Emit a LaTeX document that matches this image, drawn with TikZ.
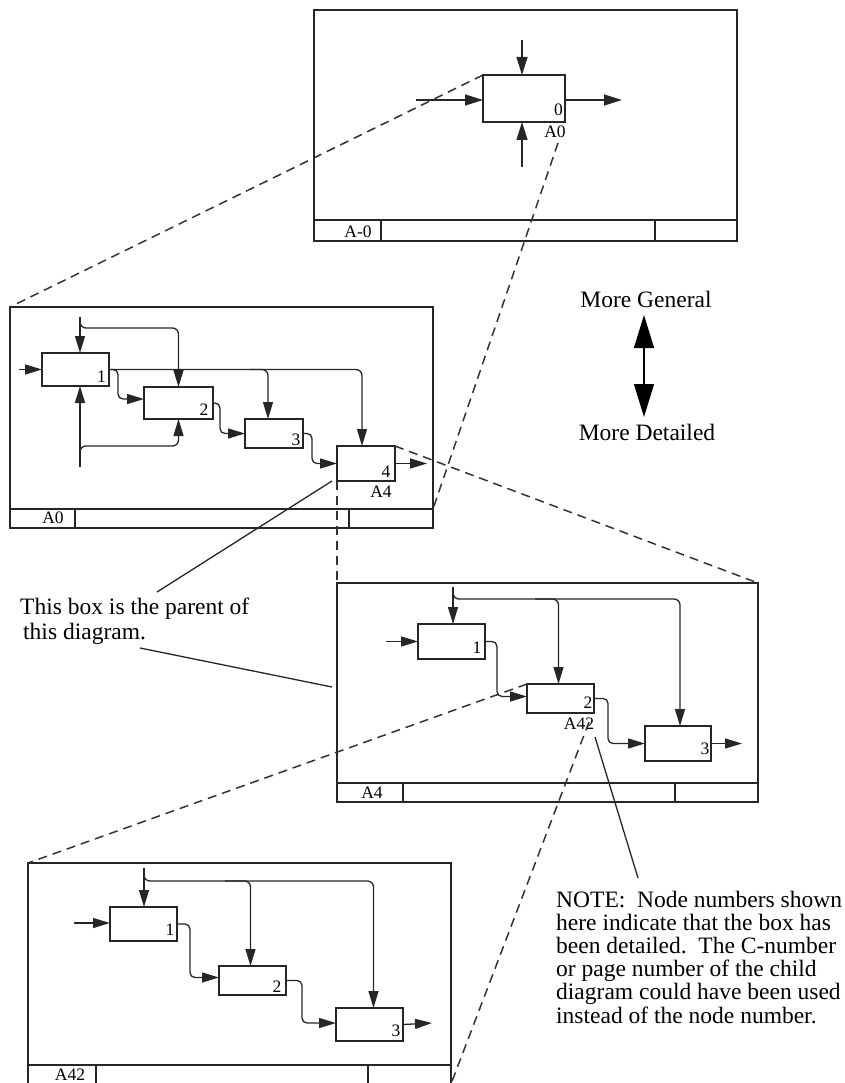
\documentclass[tikz,border=0pt]{standalone}
\usepackage{fontspec}
\setmainfont{Liberation Serif}
\usetikzlibrary{arrows.meta,calc}
\begin{document}
\begin{tikzpicture}[x=1pt,y=-1pt,
  ln/.style={line width=1.3pt, draw=black!85},
  fr/.style={line width=1.4pt, draw=black!85},
  frame/.style={draw=black!85, line width=1.4pt, inner sep=0pt, outer sep=0pt, anchor=north west},
  pbox/.style={draw=black!85, line width=1.4pt, inner sep=0pt, outer sep=0pt},
  arr/.style={line width=1.3pt, draw=black!85, -{Triangle[length=17pt,width=10pt]}},
  bigarr/.style={line width=1.4pt, draw=black!85, -{Triangle[length=18pt,width=11pt]}},
  dline/.style={line width=1.5pt, draw=black!80, dash pattern=on 9pt off 6pt},
  lbl/.style={font=\fontsize{17.5}{18}\selectfont, inner sep=0pt},
  txt/.style={font=\fontsize{23.5}{24}\selectfont, inner sep=0pt, anchor=base west},
  ctxt/.style={font=\fontsize{23.5}{24}\selectfont, inner sep=0pt, anchor=base},
]
\useasboundingbox (0,0) rectangle (845,1083);

% ---------------- frames ----------------
\node[frame, minimum width=423pt, minimum height=231pt] (F) at (314,10) {};
\node[frame, minimum width=423pt, minimum height=221pt] (G) at (10,307) {};
\node[frame, minimum width=421pt, minimum height=219pt] (H) at (337,583) {};
\node[frame, minimum width=423pt, minimum height=221pt] (K) at (28,863) {};

% footers
\draw[fr] (F.west |- 0,220) -- (F.east |- 0,220);
\draw[fr] (381,220) -- (F.south -| 381,0);
\draw[fr] (655,220) -- (F.south -| 655,0);
\node[lbl] (fA0) at (358,232) {A-0};

\draw[fr] (G.west |- 0,509) -- (G.east |- 0,509);
\draw[fr] (75,509) -- (G.south -| 75,0);
\draw[fr] (349,509) -- (G.south -| 349,0);
\node[lbl] (fA1) at (53,518) {A0};

\draw[fr] (H.west |- 0,783) -- (H.east |- 0,783);
\draw[fr] (403,783) -- (H.south -| 403,0);
\draw[fr] (675,783) -- (H.south -| 675,0);
\node[lbl] (fA4) at (372,793) {A4};

\draw[fr] (K.west |- 0,1065) -- (K.east |- 0,1065);
\draw[fr] (96,1065) -- (K.south -| 96,0);
\draw[fr] (368,1065) -- (K.south -| 368,0);
\node[lbl] (fA42) at (70,1074.5) {A42};

% ---------------- top diagram (A-0) ----------------
\node[pbox, minimum width=82pt, minimum height=47pt] (t0) at (524,98.5) {};
\node[lbl] (t0n) at (558.5,110) {0};
\node[lbl] (tA0) at (555,132) {A0};
\coordinate (tc) at (522,40);
\coordinate (tm) at (522,167);
\coordinate (ti) at (416,100);
\coordinate (tout) at (622,100);
\draw[bigarr] (tc) -- (tc |- t0.north);
\draw[bigarr] (tm) -- (tm |- t0.south);
\draw[bigarr] (ti) -- (ti -| t0.west);
\draw[bigarr] (tout -| t0.east) -- (tout);

% ---------------- A0 diagram ----------------
\node[pbox, minimum width=67pt, minimum height=33pt] (a1) at (75.5,369.5) {};
\node[pbox, minimum width=69pt, minimum height=32pt] (a2) at (178.5,403) {};
\node[pbox, minimum width=58pt, minimum height=29pt] (a3) at (274,433.5) {};
\node[pbox, minimum width=58pt, minimum height=35pt] (a4) at (366,463.5) {};
\node[lbl] (a1n) at (101.5,377) {1};
\node[lbl] (a2n) at (204,410) {2};
\node[lbl] (a3n) at (296,440) {3};
\node[lbl] (a4n) at (386,472) {4};
\node[lbl] (a4l) at (381,492) {A4};

\coordinate (ai) at (19,369.5);
\coordinate (ac) at (80,317);
\coordinate (am) at (80,467);
\coordinate (ao) at (427,463.5);
\draw[arr] (ai) -- (a1.west);
\draw[arr] (ac) -- (ac |- a1.north);
\draw[arr, rounded corners=6pt] (80,321) |- (a2.north |- 0,328) -- (a2.north);
\draw[arr] (am) -- (am |- a1.south);
\draw[arr, rounded corners=6pt] (80,456) |- (a2.south |- 0,446) -- (a2.south);
\draw[arr, rounded corners=6pt] (a1.east) -| ([xshift=-4pt]a4.north);
\draw[arr, rounded corners=6pt] (250,369.5) -| ([xshift=-6pt]a3.north);
\draw[arr, rounded corners=5pt] (a1.east) -- ++(9,0) |- ([yshift=4pt]a2.west);
\draw[arr, rounded corners=5pt] (a2.east) -- ++(7,0) |- (a3.west);
\draw[arr, rounded corners=5pt] (a3.east) -- ++(9,0) |- (a4.west);
\draw[arr] (a4.east) -- (ao);

% ---------------- A4 diagram ----------------
\node[pbox, minimum width=67pt, minimum height=35pt] (b1) at (451.5,641.5) {};
\node[pbox, minimum width=67pt, minimum height=29pt] (b2) at (560.5,698.5) {};
\node[pbox, minimum width=66pt, minimum height=35pt] (b3) at (678,743.5) {};
\node[lbl] (b1n) at (477,648) {1};
\node[lbl] (b2n) at (588,703) {2};
\node[lbl] (b2l) at (579,724) {A42};
\node[lbl] (b3n) at (705,749) {3};

\coordinate (bc) at (453,587);
\coordinate (bi) at (386,641.5);
\coordinate (bo) at (742,743.5);
\draw[arr] (bc) -- (bc |- b1.north);
\draw[arr, rounded corners=6pt] (453,592) |- ([xshift=2pt]b3.north |- 0,599) -- ([xshift=2pt]b3.north);
\draw[arr, rounded corners=6pt] (535,599) -| ([xshift=-2pt]b2.north);
\draw[arr] (bi) -- (b1.west);
\draw[arr, rounded corners=5pt] (b1.east) -- ++(12,0) |- ([yshift=2pt]b2.west);
\draw[arr, rounded corners=5pt] (b2.east) -- ++(14,0) |- (b3.west);
\draw[arr] (b3.east) -- (bo);

% ---------------- A42 diagram ----------------
\node[pbox, minimum width=67pt, minimum height=34pt] (c1) at (143.5,924) {};
\node[pbox, minimum width=67pt, minimum height=29pt] (c2) at (252.5,980.5) {};
\node[pbox, minimum width=67pt, minimum height=33pt] (c3) at (369.5,1024.5) {};
\node[lbl] (c1n) at (170,930) {1};
\node[lbl] (c2n) at (277,987) {2};
\node[lbl] (c3n) at (396,1031) {3};

\coordinate (cc) at (144,868);
\coordinate (ci) at (74,923);
\coordinate (co) at (432,1023);
\draw[arr] (cc) -- (cc |- c1.north);
\draw[arr, rounded corners=6pt] (144,874) |- ([xshift=4pt]c3.north |- 0,881) -- ([xshift=4pt]c3.north);
\draw[arr, rounded corners=6pt] (225,881) -| ([xshift=-2pt]c2.north);
\draw[arr] (ci) -- (ci -| c1.west);
\draw[arr, rounded corners=5pt] (c1.east) -- ++(13,0) |- ([yshift=3pt]c2.west);
\draw[arr, rounded corners=5pt] (c2.east) -- ++(16,0) |- ([yshift=1.5pt]c3.west);
\draw[arr] (c3.east) -- (co);

% ---------------- dashed correspondence lines ----------------
\coordinate (d2s) at (558,143);
\coordinate (d6s) at (589,722);
\draw[dline] (t0.north west) -- (G.north west);
\draw[dline] (d2s) -- (G.east |- 0,509);
\draw[dline] (a4.north east) -- (H.north east);
\draw[dline] (a4.south west) -- (H.north west);
\draw[dline] (b2.north west) -- (K.north west);
\draw[dline] (d6s) -- (K.south east);

% ---------------- More General / More Detailed ----------------
\node[ctxt] (mgt) at (646,307) {More General};
\node[ctxt] (mdt) at (647,440) {More Detailed};
\coordinate (mg) at (644,315);
\coordinate (md) at (644,417);
\draw[line width=1.4pt, {Triangle[length=33pt,width=20pt]}-{Triangle[length=33pt,width=20pt]}] (mg) -- (md);

% ---------------- annotations ----------------
\node[txt] (p1) at (20,614) {This box is the parent of};
\node[txt] (p2) at (23,639) {this diagram.};
\coordinate (p1e) at (157,592);
\coordinate (p2s) at (140,648);
\coordinate (p2e) at (332,687);
\draw[ln] ([xshift=-5pt]a4.south west) -- (p1e);
\draw[ln] (p2s) -- (p2e);

\node[txt] (n1) at (556,907) {NOTE:\hspace{0.5em}Node numbers shown};
\node[txt] (n2) at (556,930.2) {here indicate that the box has};
\node[txt] (n3) at (556,953.4) {been detailed.\hspace{0.5em}The C-number};
\node[txt] (n4) at (556,976.6) {or page number of the child};
\node[txt] (n5) at (556,999.8) {diagram could have been used};
\node[txt] (n6) at (556,1023) {instead of the node number.};
\coordinate (ns) at (595,737);
\coordinate (ne) at (638,878);
\draw[ln] (ns) -- (ne);

\end{tikzpicture}
\end{document}
